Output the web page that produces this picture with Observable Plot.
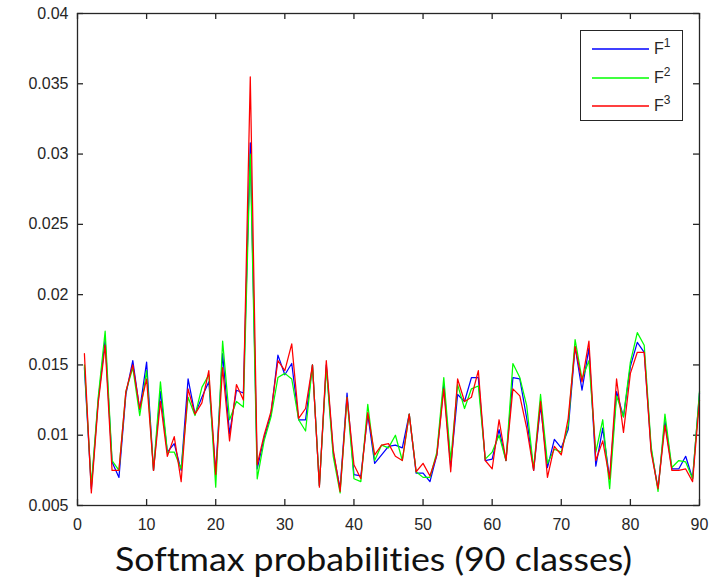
<!DOCTYPE html>
<html>
<head>
<meta charset="utf-8">
<script src="https://cdn.jsdelivr.net/npm/d3@7"></script>
<script src="https://cdn.jsdelivr.net/npm/@observablehq/plot@0.6"></script>
<style>
  html, body { margin: 0; padding: 0; background: #fff; }
  #wrap { position: relative; width: 718px; height: 581px; overflow: hidden; }
  #legend { position: absolute; left: 580px; top: 30px; width: 103px; height: 91px;
            border: 1px solid #262626; background: #fff; box-sizing: border-box; }
  .row { position: absolute; left: 0; height: 20px; width: 100%; }
  .row svg { position: absolute; left: 11px; top: 0; }
  .row span { position: absolute; left: 73px; top: 0; font-family: "Liberation Sans", Arial, sans-serif;
              font-size: 16px; color: #262626; line-height: 20px; }
  .row sup { font-size: 12px; position: relative; top: -2px; vertical-align: top; line-height: 12px; }
  #xtitle { position: absolute; top: 539px; left: 0; white-space: nowrap;
            font-family: Lato, "Open Sans", sans-serif; font-size: 33px; color: #111;
            transform-origin: 0 0; line-height: 1.2;
            font-variant-ligatures: none; font-feature-settings: "liga" 0, "clig" 0; }
</style>
</head>
<body>
<div id="wrap">
  <div id="chart"></div>
  <div id="legend"></div>
  <div id="xtitle">Softmax probabilities (90 classes)</div>
</div>
<script>
// ---- data ----
const classes = Array.from({length: 90}, (_, i) => i + 1);

const F1 = [0.0148,0.0062,0.0125,0.0168,0.0081,0.0070,0.0129,0.0153,0.0118,0.0152,
            0.0075,0.0131,0.0088,0.0094,0.0075,0.0140,0.0115,0.0127,0.0138,0.0073,
            0.0158,0.0101,0.0132,0.0130,0.0308,0.0076,0.0098,0.0115,0.0157,0.0143,
            0.0151,0.0111,0.0111,0.0150,0.0064,0.0150,0.0088,0.0062,0.0130,0.0072,
            0.0071,0.0115,0.0080,0.0086,0.0092,0.0093,0.0091,0.0115,0.0073,0.0073,
            0.0067,0.0086,0.0136,0.0078,0.0129,0.0124,0.0141,0.0141,0.0082,0.0083,
            0.0104,0.0082,0.0141,0.0140,0.0112,0.0075,0.0121,0.0077,0.0097,0.0091,
            0.0104,0.0163,0.0132,0.0162,0.0078,0.0105,0.0069,0.0131,0.0113,0.0149,
            0.0166,0.0159,0.0090,0.0062,0.0110,0.0076,0.0076,0.0085,0.0069,0.0130];

const F2 = [0.0150,0.0064,0.0127,0.0174,0.0082,0.0075,0.0131,0.0148,0.0114,0.0146,
            0.0075,0.0138,0.0088,0.0088,0.0076,0.0127,0.0114,0.0134,0.0143,0.0063,
            0.0167,0.0111,0.0124,0.0120,0.0300,0.0069,0.0096,0.0113,0.0141,0.0144,
            0.0140,0.0111,0.0103,0.0150,0.0064,0.0148,0.0085,0.0059,0.0127,0.0069,
            0.0067,0.0122,0.0082,0.0093,0.0091,0.0100,0.0082,0.0115,0.0074,0.0070,
            0.0070,0.0088,0.0141,0.0082,0.0136,0.0119,0.0133,0.0135,0.0083,0.0088,
            0.0100,0.0082,0.0151,0.0141,0.0121,0.0076,0.0129,0.0080,0.0090,0.0088,
            0.0107,0.0168,0.0140,0.0153,0.0088,0.0111,0.0062,0.0128,0.0113,0.0152,
            0.0173,0.0164,0.0092,0.0060,0.0115,0.0077,0.0082,0.0081,0.0069,0.0131];

const F3 = [0.0158,0.0059,0.0123,0.0164,0.0075,0.0075,0.0131,0.0150,0.0119,0.0140,
            0.0075,0.0124,0.0085,0.0099,0.0067,0.0133,0.0115,0.0123,0.0146,0.0072,
            0.0148,0.0096,0.0136,0.0125,0.0355,0.0079,0.0100,0.0117,0.0153,0.0146,
            0.0165,0.0112,0.0119,0.0150,0.0063,0.0153,0.0090,0.0060,0.0127,0.0079,
            0.0069,0.0116,0.0086,0.0093,0.0094,0.0085,0.0082,0.0115,0.0074,0.0080,
            0.0071,0.0086,0.0133,0.0074,0.0140,0.0124,0.0127,0.0146,0.0082,0.0076,
            0.0111,0.0082,0.0133,0.0128,0.0105,0.0075,0.0124,0.0070,0.0092,0.0086,
            0.0112,0.0163,0.0138,0.0167,0.0082,0.0096,0.0069,0.0140,0.0102,0.0144,
            0.0159,0.0159,0.0088,0.0062,0.0107,0.0075,0.0075,0.0076,0.0067,0.0125];

const seriesNames = ["F", "F", "F"];
const seriesSup = ["1", "2", "3"];
const seriesColors = ["#0000ff", "#00ff00", "#ff0000"];
const seriesValues = [F1, F2, F3];

const xTicks = [0, 10, 20, 30, 40, 50, 60, 70, 80, 90];
const yTicks = [0.005, 0.01, 0.015, 0.02, 0.025, 0.03, 0.035, 0.04];

// ---- layout ----
const W = 718, H = 538;
const mL = 77, mR = 19, mT = 13, mB = 33;
const plotW = W - mL - mR, plotH = H - mT - mB;
const tickLen = 6;
const axisColor = "#262626";

const lineMarks = seriesValues.map((vals, s) =>
  Plot.line(classes, {x: d => d, y: (d, i) => vals[i], stroke: seriesColors[s], strokeWidth: 1.25})
);

const chart = Plot.plot({
  width: W, height: H,
  marginLeft: mL, marginRight: mR, marginTop: mT, marginBottom: mB,
  x: {domain: [0, 90]},
  y: {domain: [0.005, 0.04]},
  style: {fontFamily: "'Liberation Sans', Arial, sans-serif", fontSize: "16px", color: axisColor, background: "#fff"},
  marks: [
    Plot.axisX({ticks: xTicks, tickSize: 0, tickPadding: 13, label: null, tickFormat: d => String(d)}),
    Plot.axisY({ticks: yTicks, tickSize: 0, tickPadding: 9, label: null, tickFormat: d => String(+d.toFixed(3))}),
    Plot.tickX(xTicks, {x: d => d, insetTop: plotH - tickLen, stroke: axisColor, strokeWidth: 1.3}),
    Plot.tickX(xTicks, {x: d => d, insetBottom: plotH - tickLen, stroke: axisColor, strokeWidth: 1.3}),
    Plot.tickY(yTicks, {y: d => d, insetRight: plotW - tickLen, stroke: axisColor, strokeWidth: 1.3}),
    Plot.tickY(yTicks, {y: d => d, insetLeft: plotW - tickLen, stroke: axisColor, strokeWidth: 1.3}),
    ...lineMarks,
    Plot.frame({stroke: axisColor, strokeWidth: 1.3})
  ]
});
document.getElementById("chart").appendChild(chart);

// ---- legend ----
const legend = document.getElementById("legend");
const rowTops = [8, 37, 65];
seriesColors.forEach((c, s) => {
  const row = document.createElement("div");
  row.className = "row";
  row.style.top = rowTops[s] + "px";
  row.innerHTML = `<svg width="58" height="20"><line x1="0" x2="57" y1="10" y2="10" stroke="${c}" stroke-width="1.3"/></svg>` +
    `<span>${seriesNames[s]}<sup>${seriesSup[s]}</sup></span>`;
  legend.appendChild(row);
});

// ---- x title ----
const t = document.getElementById("xtitle");
const targetW = 517, centerX = 373;
const w = t.getBoundingClientRect().width;
const sx = targetW / w;
t.style.left = (centerX - targetW / 2) + "px";
t.style.transform = `scaleX(${sx})`;
</script>
</body>
</html>
